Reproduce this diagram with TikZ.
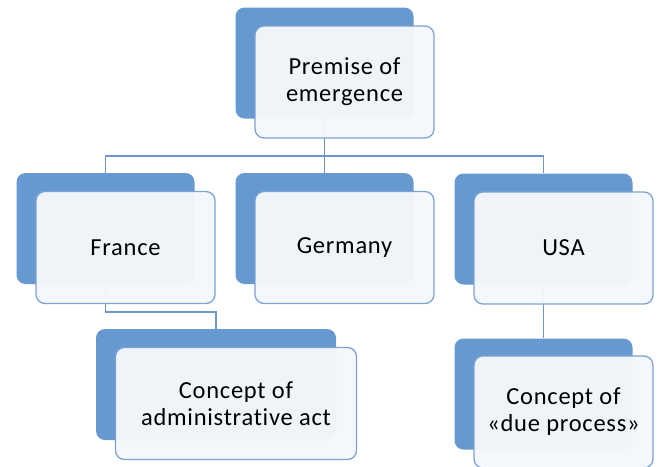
\documentclass[tikz,border=0pt]{standalone}
\usepackage{fontspec}
\setmainfont{Carlito}[Ligatures={NoCommon}, LetterSpace=3]
\usetikzlibrary{positioning,backgrounds}
\definecolor{backblue}{HTML}{6699CF}
\definecolor{frontfill}{HTML}{F4F7FB}
\definecolor{edgeblue}{HTML}{7DA2D6}
\definecolor{linkblue}{HTML}{6E95CB}

\begin{document}
\begin{tikzpicture}[x=1pt,y=-1pt,
  backbox/.style={fill=backblue, rounded corners=9pt, inner sep=0pt,
    minimum width=178pt, minimum height=111pt},
  frontbox/.style={fill=frontfill, fill opacity=0.97, text opacity=1,
    draw=edgeblue, line width=1.3pt, rounded corners=9pt,
    minimum width=179pt, minimum height=112pt, align=center,
    font=\fontsize{24.5}{27}\selectfont},
  link/.style={draw=linkblue, line width=1.8pt}]
  \useasboundingbox (0,0) rectangle (658,466);
  % back boxes
  \node[backbox] (premB) at (324.5,63) {};
  \node[backbox] (franceB) at (105.5,228.5) {};
  \node[backbox] (germanyB) at (324.5,228.5) {};
  \node[backbox] (usaB) at (543.5,229) {};
  \node[backbox, minimum width=240pt] (actB) at (216,384.5) {};
  \node[backbox] (dueB) at (543.5,394) {};
  % front boxes
  \node[frontbox] (prem) at ([shift={(20,19)}]premB.center) {Premise of\\emergence};
  \node[frontbox] (france) at ([shift={(20,19)}]franceB.center) {France};
  \node[frontbox] (germany) at ([shift={(20,19)}]germanyB.center) {Germany};
  \node[frontbox] (usa) at ([shift={(20,19)}]usaB.center) {USA};
  \node[frontbox, minimum width=241pt] (act) at ([shift={(20,19)}]actB.center) {Concept of\\administrative act};
  \node[frontbox] (due) at ([shift={(20,18)}]dueB.center) {Concept of\\«due process»};
  % connectors
  \begin{pgfonlayer}{background}
    \draw[link] (premB.south) -- ++(0,37) -| (franceB.north);
    \draw[link] (premB.south) -- (germanyB.north);
    \draw[link] (premB.south) -- ++(0,37) -| (usaB.north);
    \draw[link] (franceB.south) -- ++(0,28) -| (actB.north);
    \draw[link] (usaB.south) -- (dueB.north);
  \end{pgfonlayer}
\end{tikzpicture}
\end{document}
